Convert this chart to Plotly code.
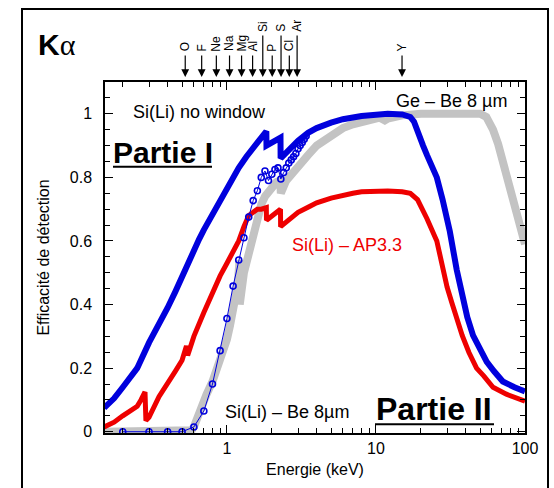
import numpy as np
import plotly.graph_objects as go

# Si(Li) detector, no entrance window
e_nowin = [0.15, 0.175, 0.2, 0.225, 0.25, 0.3, 0.35, 0.4, 0.45, 0.5, 0.55, 0.6, 0.65, 0.7, 0.75, 0.8,
           0.9, 1.0, 1.1, 1.2, 1.35, 1.5, 1.6, 1.7, 1.75, 1.838, 1.842,
           2.0, 2.2, 2.288, 2.292, 2.5, 2.8, 3.0, 3.5, 4.0, 5.0, 6.0, 8.0, 10.0, 12.0, 15.0,
           17.0, 18.0, 19.0, 20.7, 22.0, 25.6, 28.0, 31.3, 34.8, 38.5, 41.0, 44.8, 50.0, 55.4,
           62.0, 71.0, 85.0, 100.0]
eff_nowin = [0.075, 0.105, 0.14, 0.17, 0.20, 0.28, 0.335, 0.39, 0.44, 0.49, 0.53, 0.57, 0.605, 0.635, 0.66, 0.685,
             0.73, 0.77, 0.80, 0.83, 0.865, 0.895, 0.912, 0.925, 0.933, 0.945, 0.90,
             0.91, 0.92, 0.925, 0.86, 0.88, 0.90, 0.915, 0.94, 0.955, 0.972, 0.983, 0.993, 0.998, 1.0, 0.998,
             0.99, 0.975, 0.95, 0.90, 0.87, 0.80, 0.73, 0.63, 0.51, 0.406, 0.36, 0.303, 0.26, 0.22,
             0.19, 0.158, 0.14, 0.127]

# Si(Li) detector with AP3.3 polymer window
e_ap33 = [0.15, 0.175, 0.2, 0.225, 0.25, 0.265, 0.282, 0.286, 0.3, 0.35, 0.4, 0.45, 0.5, 0.535, 0.545,
          0.6, 0.7, 0.8, 0.9, 1.0, 1.1, 1.2, 1.3, 1.4, 1.5, 1.6, 1.7, 1.838, 1.842, 2.0, 2.25, 2.288,
          2.292, 2.6, 3.0, 3.5, 4.0, 5.0, 6.0, 7.0, 8.0, 10.0, 12.0, 15.0, 17.0, 19.0, 20.7, 22.0,
          25.6, 28.1, 30.0, 32.3, 35.0, 37.9, 42.0, 47.3, 53.0, 61.0, 75.0, 92.0, 100.0]
eff_ap33 = [0.015, 0.03, 0.05, 0.065, 0.08, 0.10, 0.125, 0.035, 0.045, 0.11, 0.15, 0.19, 0.225, 0.27, 0.24,
            0.30, 0.375, 0.437, 0.49, 0.53, 0.57, 0.60, 0.645, 0.68, 0.69, 0.70, 0.70, 0.705, 0.665, 0.68, 0.70, 0.70,
            0.645, 0.665, 0.69, 0.706, 0.72, 0.735, 0.745, 0.75, 0.755, 0.758, 0.757, 0.755, 0.75, 0.73, 0.697, 0.67,
            0.60, 0.51, 0.455, 0.406, 0.35, 0.303, 0.25, 0.20, 0.175, 0.14, 0.118, 0.102, 0.096]

# Ge detector with 8 um Be window
e_ge = [0.15, 0.3, 0.55, 0.58, 0.6, 0.63, 0.66, 0.7, 0.73, 0.8, 0.85, 0.9, 0.95, 1.0, 1.05, 1.1, 1.15,
        1.18, 1.215, 1.219, 1.3, 1.43, 1.5, 1.6, 1.7, 1.8, 2.0, 2.15, 2.28, 2.3, 2.5, 2.7, 3.0, 3.5,
        4.0, 5.0, 6.0, 7.0, 8.0, 10.0, 11.09, 11.11, 12.0, 15.0, 20.0, 30.0, 40.0, 45.0, 50.0, 55.0,
        58.0, 61.0, 66.0, 71.0, 77.0, 83.0, 88.0, 92.0, 96.0, 100.0]
eff_ge = [0.0, 0.0, 0.0, 0.005, 0.015, 0.04, 0.077, 0.10, 0.118, 0.158, 0.19, 0.22, 0.255, 0.29, 0.335, 0.385, 0.43,
          0.46, 0.54, 0.40, 0.50, 0.58, 0.63, 0.68, 0.715, 0.74, 0.77, 0.785, 0.79, 0.75, 0.79, 0.81, 0.83, 0.87,
          0.90, 0.93, 0.955, 0.967, 0.975, 0.985, 0.99, 0.975, 0.985, 0.995, 1.0, 1.0, 1.0, 1.0, 1.0, 0.99,
          0.975, 0.95, 0.905, 0.85, 0.80, 0.746, 0.69, 0.65, 0.62, 0.59]

# Si(Li) detector with 8 um Be window (computed every 0.1 keV)
e_sibe = [0.2, 0.3, 0.4, 0.5, 0.6, 0.7, 0.8, 0.9, 1.0, 1.1, 1.2, 1.3, 1.4, 1.5, 1.6, 1.7, 1.8, 1.9,
          2.0, 2.1, 2.2, 2.3, 2.4, 2.5, 2.6, 2.7, 2.8, 2.9, 3.0, 3.1, 3.2, 3.3, 3.4]
eff_sibe = [0.0, 0.0, 0.0, 0.0, 0.015, 0.065, 0.15, 0.255, 0.356, 0.458, 0.54, 0.61, 0.675, 0.727, 0.758, 0.80, 0.82, 0.79,
            0.81, 0.825, 0.83, 0.795, 0.815, 0.83, 0.845, 0.855, 0.865, 0.875, 0.89, 0.90, 0.91, 0.92, 0.93]

# K-alpha line energies (keV)
elements = ["O", "F", "Ne", "Na", "Mg", "Al", "Si", "P", "S", "Cl", "Ar", "Y"]
ka_kev = [0.525, 0.677, 0.849, 1.041, 1.254, 1.487, 1.740, 2.013, 2.307, 2.622, 2.957, 14.958]

x_ticks = [1, 10, 100]
x_ticktext = ["1", "10", "100"]
y_ticks = [0, 0.2, 0.4, 0.6, 0.8, 1]
y_ticktext = ["0", "0.2", "0.4", "0.6", "0.8", "1"]

FONT = "Arial, Liberation Sans, sans-serif"
W, H = 554, 488
L, R, T, B = 105, 525, 82, 438  # plot area in pixels


def px(x):
    return (x - L) / (R - L)


def py(y):
    return (B - y) / (B - T)


fig = go.Figure()
fig.add_trace(go.Scatter(x=e_ge, y=eff_ge, mode="lines",
                         line=dict(color="#c3c3c3", width=8), hoverinfo="skip"))
fig.add_trace(go.Scatter(x=e_ap33, y=eff_ap33, mode="lines",
                         line=dict(color="#ee0000", width=5), hoverinfo="skip"))
fig.add_trace(go.Scatter(x=e_sibe, y=eff_sibe, mode="lines+markers",
                         line=dict(color="#0000dd", width=1),
                         marker=dict(symbol="circle-open", size=6, color="#0000dd",
                                     line=dict(width=1.6, color="#0000dd")),
                         hoverinfo="skip"))
fig.add_trace(go.Scatter(x=e_nowin, y=eff_nowin, mode="lines",
                         line=dict(color="#0000dd", width=6), hoverinfo="skip"))

annotations = []
raised = {"Si", "S", "Ar"}
for name, e in zip(elements, ka_kev):
    tail = 34 if name in raised else 54
    annotations.append(dict(x=np.log10(e), xref="x", y=py(77), yref="paper", text="",
                            showarrow=True, ax=0, ay=tail - 77, arrowhead=2, arrowsize=1.3,
                            arrowwidth=1.2, arrowcolor="black"))
    annotations.append(dict(x=np.log10(e), xref="x", y=py(tail - 1), yref="paper", text=name,
                            showarrow=False, textangle=-90, xanchor="center", yanchor="bottom",
                            font=dict(family=FONT, size=12, color="black")))

texts = [
    ("Si(Li) no window", 199.5, 112, 18, "black"),
    ("Ge – Be 8 µm", 451.5, 101, 18, "black"),
    ("Si(Li) – AP3.3", 347, 247, 18, "#ee0000"),
    ("Si(Li) – Be 8µm", 286.5, 417, 18, "black"),
    ("<b>Partie I</b>", 162.5, 153, 30, "black"),
    ("<b>Partie II</b>", 434, 414, 32, "black"),
    ("<b>K</b><span style='font-family:Liberation Serif'>α</span>", 57, 44, 30, "black"),
]
for txt, x, y, size, color in texts:
    annotations.append(dict(x=px(x), y=py(y), xref="paper", yref="paper", text=txt,
                            showarrow=False, xanchor="center", yanchor="middle",
                            font=dict(family=FONT, size=size, color=color)))

shapes = [
    # outer frame
    dict(type="rect", xref="paper", yref="paper", x0=px(22), x1=px(548), y0=py(500), y1=py(8),
         line=dict(color="black", width=2)),
    # underlines
    dict(type="line", xref="paper", yref="paper", x0=px(113), x1=px(212), y0=py(168), y1=py(168),
         line=dict(color="black", width=2)),
    dict(type="line", xref="paper", yref="paper", x0=px(375), x1=px(494), y0=py(429), y1=py(429),
         line=dict(color="black", width=2)),
]

x_minor = [v * 10 ** d for d in (-1, 0, 1) for v in range(2, 10) if v * 10 ** d >= 0.15]

fig.update_layout(
    width=W, height=H,
    margin=dict(l=L, r=W - R, t=T, b=H - B, pad=0),
    paper_bgcolor="white", plot_bgcolor="white",
    showlegend=False,
    font=dict(family=FONT, size=16, color="black"),
    annotations=annotations,
    shapes=shapes,
    xaxis=dict(type="log", range=[np.log10(0.152), 2.0],
               tickmode="array", tickvals=x_ticks, ticktext=x_ticktext,
               ticks="inside", ticklen=8, tickwidth=1.2, tickcolor="black",
               showline=True, linecolor="black", linewidth=1.5, mirror="allticks",
               showgrid=False, zeroline=False,
               minor=dict(tickmode="array", tickvals=x_minor, ticks="inside", ticklen=5,
                          tickwidth=1, tickcolor="black", showgrid=False),
               tickfont=dict(family=FONT, size=16),
               title=dict(text="Energie (keV)", font=dict(family=FONT, size=16), standoff=8)),
    yaxis=dict(range=[-0.004, 1.1],
               tickmode="array", tickvals=y_ticks, ticktext=y_ticktext,
               ticks="inside", ticklen=8, tickwidth=1.2, tickcolor="black",
               showline=True, linecolor="black", linewidth=1.5, mirror="allticks",
               showgrid=False, zeroline=False, ticklabelstandoff=8,
               minor=dict(dtick=0.05, ticks="inside", ticklen=5, tickwidth=1,
                          tickcolor="black", showgrid=False),
               tickfont=dict(family=FONT, size=16),
               title=dict(text="Efficacité de détection", font=dict(family=FONT, size=16), standoff=16)),
)

fig.write_html("out.html")
